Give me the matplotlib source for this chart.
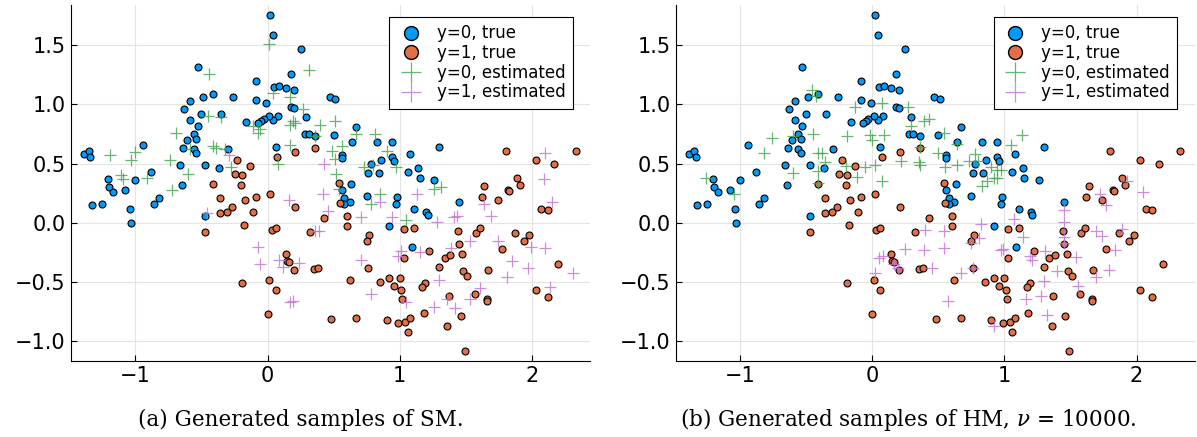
import matplotlib
matplotlib.use("Agg")
import matplotlib.pyplot as plt
from matplotlib.lines import Line2D

# true samples (same in both panels)
true0_x = [0.02, 0.04, 0.25, -0.53, 0.18, -0.09, 0.05, 0.09, 0.14, 0.20,
           -0.59, -0.49, -0.41, -0.26, -0.09, -0.01, -0.63, 0.18, 0.20, -0.50,
           -0.35, -0.59, 0.29, 0.08, 0.04, 0.01, -0.03, -0.05, -0.07, -0.16,
           -0.53, -0.61, -0.56, -0.54, -0.94, 0.28, 0.31, 0.36, -0.64, -0.56,
           -0.54, 0.06, -0.30, -1.39, -1.35, -1.34, -0.66, -0.47, -0.37, -0.88,
           -1.21, -1.00,
           0.47, 0.51, 0.67, 0.50, 0.64, 0.83, 0.94, 1.30, 0.56, 0.56,
           0.86, 0.94, 0.96, 0.78, 1.08, 1.14, 1.06, 0.84, 0.76, 1.15, 1.26, 0.63,
           -0.65, -1.20, -1.08, -1.17, -1.33, -1.25, -1.04, -0.86, -0.82, -1.03, -0.47,
           0.56, 0.58, 0.62, 0.58, 0.75, 0.98, 0.97, 1.11, 1.20, 1.21, 1.45, 0.92, 1.09]
true0_y = [1.76, 1.59, 1.47, 1.32, 1.26, 1.20, 1.15, 1.16, 1.14, 1.12,
           1.03, 1.06, 1.09, 1.06, 1.04, 1.01, 0.96, 0.98, 0.97, 0.92,
           0.92, 0.87, 0.89, 0.90, 0.87, 0.90, 0.88, 0.86, 0.84, 0.85,
           0.82, 0.70, 0.75, 0.71, 0.66, 0.75, 0.75, 0.73, 0.63, 0.62,
           0.59, 0.64, 0.62, 0.58, 0.61, 0.56, 0.49, 0.49, 0.46, 0.43,
           0.37, 0.36,
           1.06, 1.05, 0.81, 0.74, 0.68, 0.68, 0.68, 0.64, 0.57, 0.55,
           0.53, 0.56, 0.52, 0.50, 0.58, 0.46, 0.43, 0.42, 0.42, 0.38, 0.36, 0.33,
           0.32, 0.30, 0.28, 0.26, 0.15, 0.16, 0.12, 0.16, 0.21, 0.00, 0.06,
           0.28, 0.21, 0.18, 0.16, 0.23, 0.22, 0.16, 0.12, 0.09, 0.07, 0.18, -0.03, -0.20]

true1_x = [-0.23, 0.07, 0.21, 0.36, -0.13, -0.25, -0.19,
           1.80, 2.33, 2.03, 2.17, 1.89, 0.54,
           -0.41, -0.20, -0.36, -0.17, -0.09, 0.02, -0.27, -0.31, -0.36, -0.11,
           0.21, -0.18, -0.47, 0.03, 0.06, 0.32, 0.43, 0.14, 0.15, 0.16,
           0.20, 0.35, 0.38, 0.01, -0.19, 0.06, 0.00,
           1.64, 1.82, 1.83, 1.91, 1.62, 1.74, 2.07, 2.12, 0.55, 0.60,
           0.60, 0.77, 0.75, 0.76, 0.62, 1.03, 1.11, 1.03, 1.22, 1.34,
           1.38, 1.44, 1.45, 1.47, 1.30, 1.48, 1.51, 1.58, 1.61, 1.67,
           1.77, 1.87, 1.94, 1.98, 2.20, 0.85, 0.92, 1.00, 0.96, 1.01,
           1.02, 1.19, 1.17, 1.37, 1.57, 1.66, 1.66, 2.03, 2.12, 0.48,
           0.67, 0.90, 0.99, 1.04, 1.08, 1.06, 1.18, 1.36, 1.46, 1.49]
true1_y = [0.53, 0.56, 0.60, 0.63, 0.48, 0.41, 0.40,
           0.61, 0.61, 0.53, 0.50, 0.38, 0.34,
           0.33, 0.32, 0.21, 0.19, 0.22, 0.24, 0.13, 0.09, 0.08, 0.09,
           0.13, -0.02, -0.08, -0.06, -0.04, -0.08, 0.04, -0.26, -0.32, -0.33,
           -0.40, -0.39, -0.38, -0.48, -0.51, -0.57, -0.77,
           0.31, 0.28, 0.27, 0.32, 0.22, 0.19, 0.12, 0.11, 0.17, 0.06,
           -0.03, -0.10, -0.15, -0.38, -0.48, -0.05, -0.04, -0.30, -0.24, -0.30,
           -0.27, -0.07, -0.18, -0.26, -0.37, -0.41, -0.45, -0.09, -0.04, -0.40,
           -0.22, -0.09, -0.15, -0.10, -0.35, -0.50, -0.47, -0.47, -0.53, -0.57,
           -0.64, -0.51, -0.54, -0.62, -0.60, -0.64, -0.66, -0.57, -0.63, -0.81,
           -0.80, -0.82, -0.85, -0.84, -0.80, -0.92, -0.76, -0.87, -0.79, -1.08]

# estimated samples, SM
sm0_x = [0.01, 0.31, -0.44, 0.04, 0.17, 0.27, -0.45, -0.35, -0.69, 0.19,
         0.17, 0.21, 0.40, -0.11, -0.06, -0.07, 0.36, -1.19, -1.00, -1.03,
         -0.74, -0.59, -0.41, -0.39, -0.32, 0.17, 0.08, -0.28, -1.11, -1.09,
         -0.91, -0.60, 0.51, 0.67, 0.81, 0.56, 0.49, 0.51, 0.90, 0.80,
         0.73, 0.97, 0.52, -0.72, 0.54, 0.85, 0.78, 1.05, 1.26, 1.31]
sm0_y = [1.51, 1.29, 1.26, 1.10, 1.06, 0.96, 0.90, 0.89, 0.76, 0.86,
         0.83, 0.84, 0.83, 0.82, 0.79, 0.76, 0.73, 0.57, 0.60, 0.53,
         0.53, 0.62, 0.65, 0.63, 0.62, 0.66, 0.50, 0.47, 0.40, 0.37,
         0.38, 0.41, 0.86, 0.75, 0.75, 0.65, 0.61, 0.54, 0.61, 0.49,
         0.47, 0.47, 0.41, 0.28, 0.29, 0.24, 0.16, 0.02, 0.29, 0.30]
sm1_x = [-0.29, 0.43, 2.10, 2.09, -0.46, -0.07, -0.06, 0.09, 0.12, 0.24,
         0.16, 0.42, 0.36, 0.39, 0.17, 0.19, 0.46, 1.13, 0.85, 0.71,
         0.94, 1.28, 1.41, 1.43, 1.64, 1.69, 2.15, 1.74, 1.53, 1.39,
         1.15, 1.01, 0.99, 0.71, 1.30, 1.85, 1.99, 2.10, 1.97, 1.81,
         2.31, 1.61, 2.14, 1.53, 1.36, 1.05, 0.78, 1.26, 1.42]
sm1_y = [0.57, 0.50, 0.59, 0.37, 0.08, -0.20, -0.35, -0.31, -0.37, -0.34,
         0.19, 0.24, -0.07, -0.07, -0.67, -0.66, 0.10, 0.24, 0.18, 0.05,
         0.05, 0.01, 0.05, 0.06, 0.16, 0.06, 0.18, -0.15, -0.15, -0.21,
         -0.25, -0.24, -0.28, -0.31, -0.48, -0.32, -0.20, -0.21, -0.38, -0.46,
         -0.42, -0.55, -0.54, -0.64, -0.64, -0.67, -0.60, -0.71, -0.72]

# estimated samples, HM
hm0_x = [-0.46, -0.43, -0.13, 0.07, 0.27, 0.29, 0.39, 0.43, -0.76, -0.82,
         -0.60, -0.45, -0.19, -0.02, 0.00, 0.09, -0.41, -0.38, -0.36, -0.41,
         -0.20, -0.06, 0.02, -0.12, 0.07, 0.22, 0.35, 0.36, 0.36, -0.60,
         -1.26, -0.41, -1.05, 0.54, 0.64, 0.50, 0.55, 0.64, 0.73, 0.78,
         0.80, 0.90, 0.92, 0.94, 0.97, 0.87, 0.83, 0.94, 1.05, 1.13]
hm0_y = [1.12, 1.07, 0.98, 1.01, 0.98, 0.82, 0.86, 0.88, 0.72, 0.59,
         0.73, 0.75, 0.73, 0.74, 0.70, 0.74, 0.59, 0.59, 0.51, 0.44,
         0.48, 0.47, 0.49, 0.39, 0.35, 0.52, 0.51, 0.49, 0.64, 0.42,
         0.38, 0.34, 0.24, 0.76, 0.67, 0.59, 0.47, 0.49, 0.52, 0.58,
         0.52, 0.47, 0.38, 0.45, 0.45, 0.35, 0.31, 0.38, 0.66, 0.74]
hm1_x = [1.93, 2.05, 0.02, 0.05, 0.08, 0.16, 0.19, 0.25, 0.39, 0.40,
         0.54, 0.54, 0.45, 0.67, 0.76, 0.75, 0.81, 0.82, 0.97, 0.99,
         1.07, 1.14, 1.19, 1.21, 1.31, 1.40, 1.30, 1.16, 1.28, 1.32,
         0.92, 0.57, 1.45, 1.45, 1.45, 1.45, 1.54, 1.56, 1.69, 1.79,
         1.69, 1.74, 1.84, 1.89, 1.77, 1.72]
hm1_y = [0.35, 0.26, -0.42, -0.30, -0.28, -0.35, -0.38, -0.22, -0.23, -0.06,
         -0.07, -0.21, -0.38, -0.42, -0.38, -0.17, -0.13, -0.01, -0.23, -0.22,
         0.03, -0.12, -0.28, -0.31, -0.24, -0.41, -0.49, -0.64, -0.62, -0.78,
         -0.87, -0.66, 0.11, 0.01, -0.17, -0.12, -0.29, -0.53, -0.46, -0.40,
         -0.07, -0.11, -0.23, -0.05, 0.15, 0.24]

captions = ["(a) Generated samples of SM.",
            "(b) Generated samples of HM, $\\nu$ = 10000."]
labels = ["y=0, true", "y=1, true", "y=0, estimated", "y=1, estimated"]

blue = "#009AFA"
orange = "#E36F47"
green = "#3EA44E"
purple = "#C271D2"

plt.rcParams["mathtext.fontset"] = "dejavuserif"

fig = plt.figure(figsize=(11.97, 4.37), dpi=100)
ax1 = fig.add_axes([0.059, 0.174, 0.434, 0.815])
ax2 = fig.add_axes([0.5645, 0.174, 0.4335, 0.815])

panels = [(ax1, sm0_x, sm0_y, sm1_x, sm1_y), (ax2, hm0_x, hm0_y, hm1_x, hm1_y)]

for ax, e0x, e0y, e1x, e1y in panels:
    ax.plot(true0_x, true0_y, "o", color=blue, markersize=5,
            markeredgecolor="black", markeredgewidth=0.8, zorder=3)
    ax.plot(true1_x, true1_y, "o", color=orange, markersize=5,
            markeredgecolor="black", markeredgewidth=0.8, zorder=3)
    ax.plot(e0x, e0y, "+", color=green, markersize=9, markeredgewidth=0.9,
            alpha=0.8, zorder=4)
    ax.plot(e1x, e1y, "+", color=purple, markersize=9, markeredgewidth=0.9,
            alpha=0.8, zorder=4)

    ax.set_xlim(-1.49, 2.44)
    ax.set_ylim(-1.167, 1.842)
    ax.set_xticks([-1, 0, 1, 2])
    ax.set_yticks([-1.0, -0.5, 0.0, 0.5, 1.0, 1.5])
    ax.set_yticklabels(["−1.0", "−0.5", "0.0", "0.5", "1.0", "1.5"])
    ax.set_xticklabels(["−1", "0", "1", "2"])
    ax.grid(True, color="#e4e4e4", linewidth=0.8)
    ax.set_axisbelow(True)
    ax.spines["top"].set_visible(False)
    ax.spines["right"].set_visible(False)
    ax.tick_params(direction="in", length=4, labelsize=15, width=0.8)

    handles = [
        Line2D([], [], linestyle="", marker="o", color=blue, markersize=10,
               markeredgecolor="black", markeredgewidth=1.0),
        Line2D([], [], linestyle="", marker="o", color=orange, markersize=10,
               markeredgecolor="black", markeredgewidth=1.0),
        Line2D([], [], linestyle="", marker="+", color=green, markersize=14,
               markeredgewidth=0.9, alpha=0.8),
        Line2D([], [], linestyle="", marker="+", color=purple, markersize=14,
               markeredgewidth=0.9, alpha=0.8),
    ]
    leg = ax.legend(handles, labels, loc="upper right",
                    bbox_to_anchor=(0.967, 0.966), borderaxespad=0,
                    fontsize=12, fancybox=False, framealpha=1,
                    edgecolor="black", handletextpad=0.7, labelspacing=0.1,
                    borderpad=0.45, handlelength=1.7)
    leg.get_frame().set_linewidth(0.8)

fig.text(0.251, 0.039, captions[0], ha="center", va="center",
         fontsize=15.5, family="DejaVu Serif")
fig.text(0.759, 0.039, captions[1], ha="center", va="center",
         fontsize=15.5, family="DejaVu Serif")

fig.savefig("out.png", dpi=100)
